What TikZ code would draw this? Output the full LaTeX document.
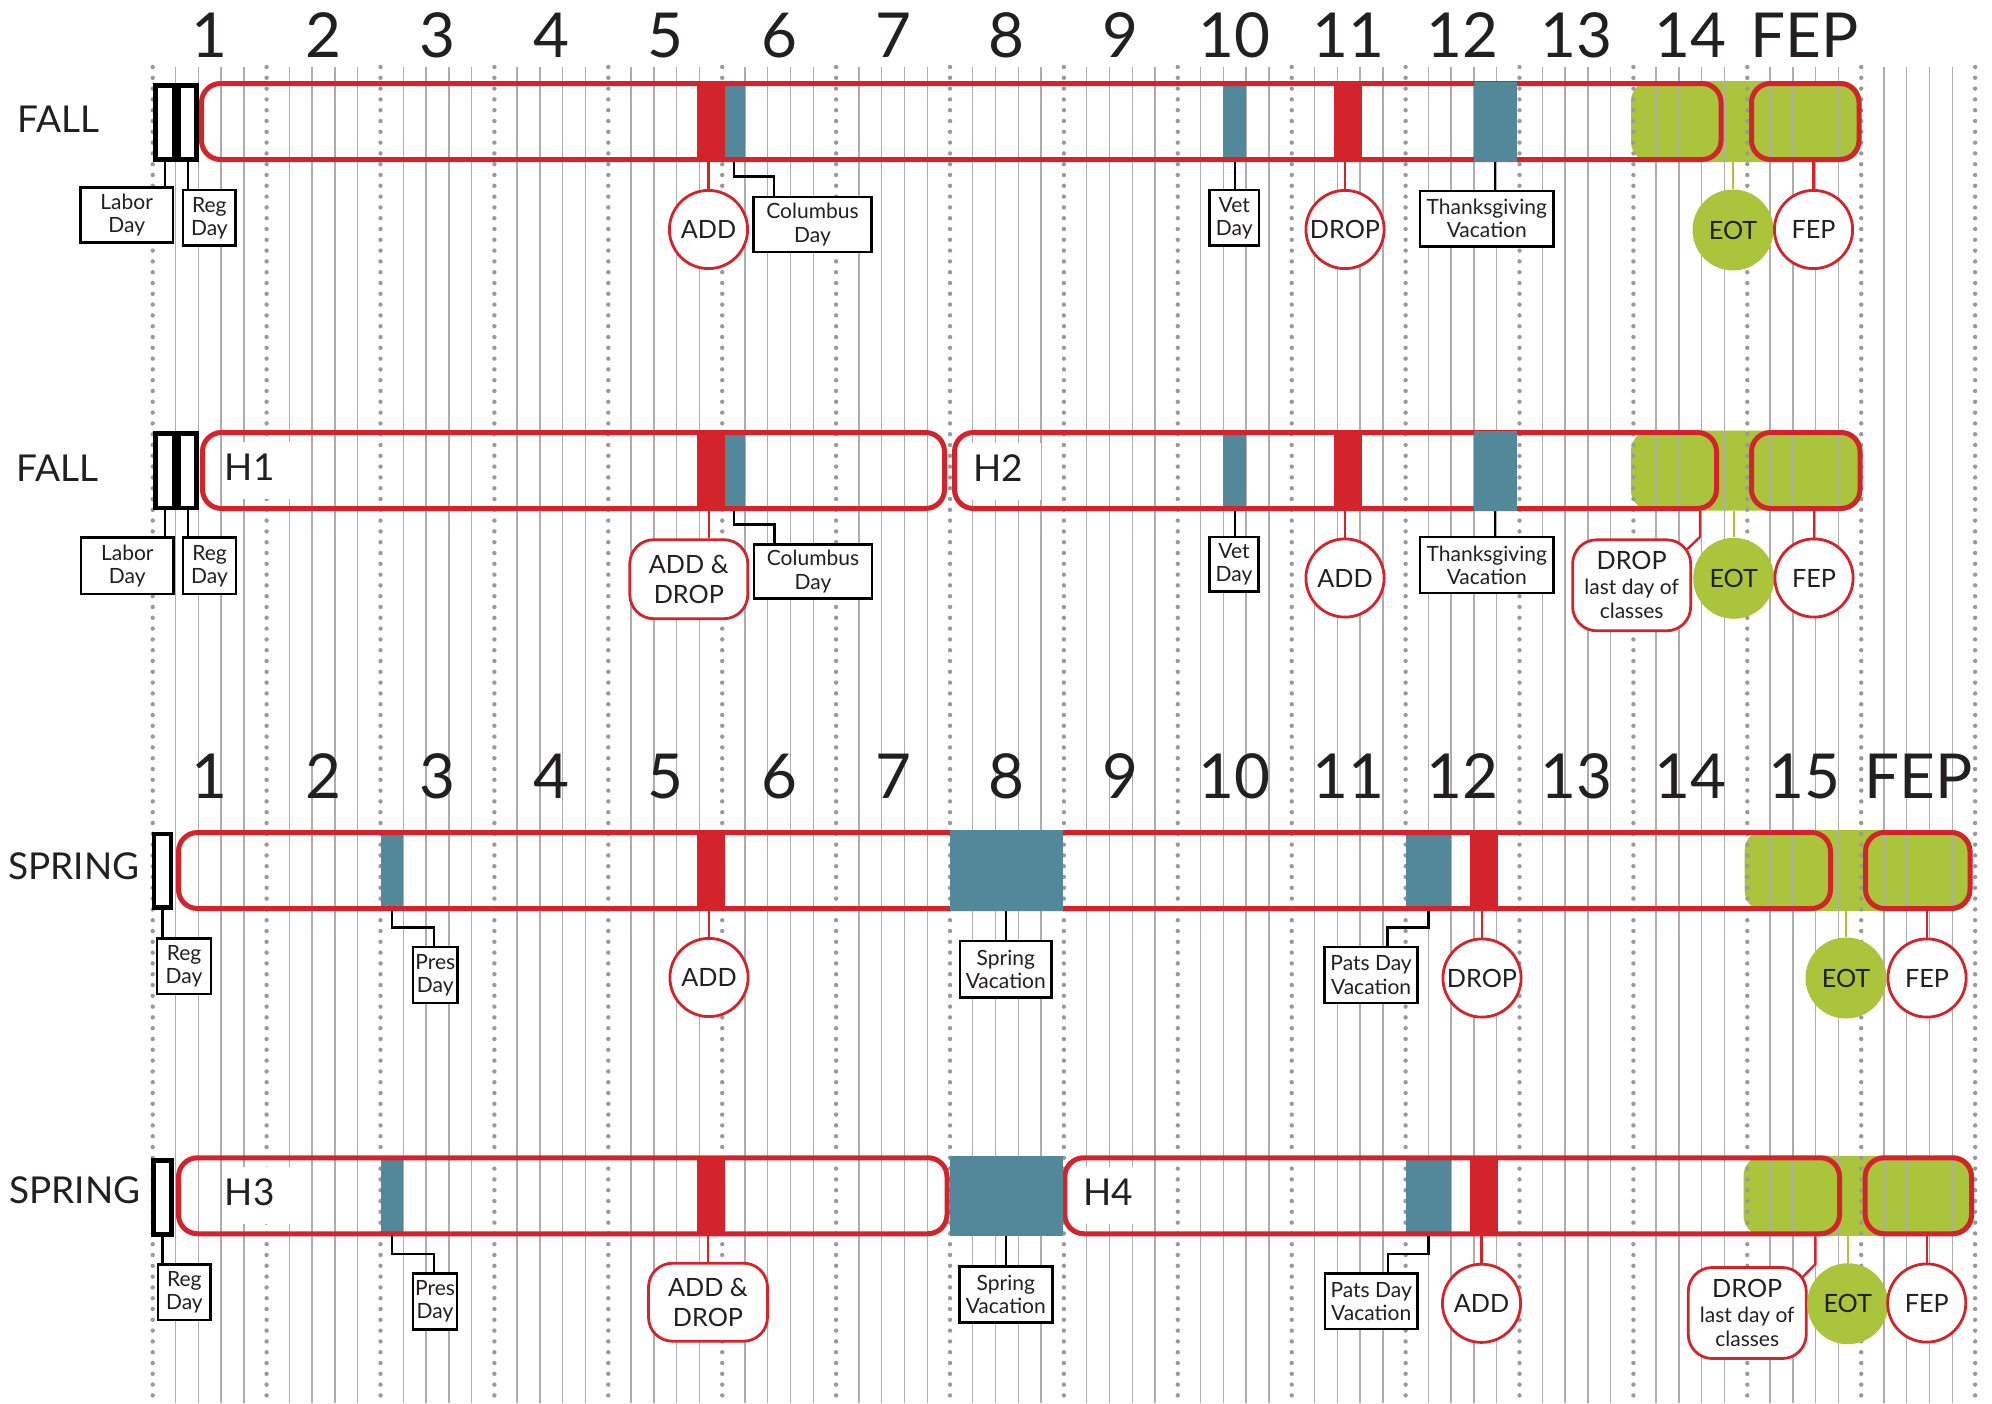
\documentclass[tikz,border=0pt]{standalone}
\usepackage{fontspec}
\setmainfont{Lato}
\usetikzlibrary{calc}
\definecolor{cred}{HTML}{D3232B}
\definecolor{cblue}{HTML}{53879A}
\definecolor{cgreen}{HTML}{AAC43B}
\definecolor{cgrid}{HTML}{ADADAD}
\definecolor{cdot}{HTML}{9A9A9A}
\definecolor{ctext}{HTML}{231F20}
\tikzset{
  wh/.style 2 args={minimum width=#1*0.5pt, minimum height=#2*0.5pt},
  gridline/.style={cgrid, line width=0.7pt},
  dotline/.style={cdot, line width=2.2pt, line cap=round, dash pattern=on 0pt off 5.4pt},
  wknum/.style={font=\fontsize{31}{31}\selectfont, text=ctext, inner sep=0pt, anchor=base},
  season/.style={font=\fontsize{18.5}{20}\selectfont, text=ctext, inner sep=0pt, anchor=base west},
  hlabel/.style={font=\fontsize{18.5}{20}\selectfont, text=ctext, inner sep=0pt, anchor=base west},
  termbox/.style={rectangle, draw=cred, line width=2.5pt, rounded corners=9.5pt, inner sep=0pt},
  greenblock/.style={rectangle, fill=cgreen, rounded corners=10pt, inner sep=0pt, outer sep=0pt},
  redbar/.style={rectangle, fill=cred, inner sep=0pt, outer sep=0pt},
  bluebar/.style={rectangle, fill=cblue, inner sep=0pt, outer sep=0pt},
  daycell/.style={rectangle, draw=black, line width=2.4pt, fill=white, inner sep=0pt},
  callout/.style={rectangle, draw=black, line width=1.35pt, fill=white, inner sep=0pt, align=center, font=\fontsize{10.5}{11.6}\selectfont, text=ctext},
  evcirc/.style={circle, draw=cred, line width=1.4pt, fill=white, inner sep=0pt, minimum size=39.1pt, font=\fontsize{12.6}{15}\selectfont, text=ctext},
  eotcirc/.style={circle, fill=cgreen, inner sep=0pt, minimum size=40.5pt, font=\fontsize{12.6}{15}\selectfont, text=ctext},
  evbox/.style={rectangle, rounded corners=12pt, draw=cred, line width=1.4pt, fill=white, inner sep=0pt, align=center, font=\fontsize{12.6}{15}\selectfont, text=ctext},
  dropbox/.style={rectangle, rounded corners=12pt, draw=cred, line width=1.4pt, fill=white, inner sep=0pt, align=center, font=\fontsize{10.5}{12.3}\selectfont, text=ctext},
  redcon/.style={cred, line width=1.2pt},
  greencon/.style={cgreen, line width=1.2pt},
  blackcon/.style={black, line width=1.1pt},
}
\begin{document}
\begin{tikzpicture}[x=0.5pt,y=-0.5pt]
\useasboundingbox (0,0) rectangle (1992,1403);
\fill[white] (0,0) rectangle (1992,1403);

% green end-of-term blocks
\node[greenblock, wh={230}{81}] (gb1) at (1746,121.5) {};
\node[greenblock, wh={231}{80}] (gb2) at (1746.5,470.5) {};
\node[greenblock, wh={227.3}{81}] (gb3) at (1858.35,870.5) {};
\node[greenblock, wh={230.5}{80}] (gb4) at (1858.75,1195.75) {};

% grid
\foreach \d in {0,...,80}{
  \pgfmathsetmacro{\gx}{152.7+22.78*\d}
  \pgfmathtruncatemacro{\gm}{mod(\d,5)}
  \ifnum\gm=0
    \draw[dotline] (\gx,67) -- (\gx,1403);
  \else
    \draw[gridline] (\gx,67) -- (\gx,1403);
  \fi
}

% week numbers
\foreach \k in {1,...,14}{
  \node[wknum] (fn\k) at ({152.7+113.9*(\k-0.5)},57) {\k};
}
\node[wknum] (fnfep) at ({152.7+113.9*14.5},57) {FEP};
\foreach \k in {1,...,15}{
  \node[wknum] (sn\k) at ({152.7+113.9*(\k-0.5)},798) {\k};
}
\node[wknum] (snfep) at ({152.7+113.9*15.5},798) {FEP};

% inner bars, row 1
\node[bluebar, wh={22.8}{80}] (colbar1) at (733.6,121.5) {};
\node[redbar, wh={27.5}{80}] (addbar1) at (710.75,121.5) {};
\node[bluebar, wh={22.8}{80}] (vetbar1) at (1234.8,121.5) {};
\node[redbar, wh={27.5}{80}] (dropbar1) at (1348,121.5) {};
% row 2
\node[bluebar, wh={22.8}{80}] (colbar2) at (733.6,470.5) {};
\node[redbar, wh={27.5}{80}] (addbar2) at (710.75,470.5) {};
\node[bluebar, wh={22.8}{80}] (vetbar2) at (1234.8,470.5) {};
\node[redbar, wh={27.5}{80}] (dropbar2) at (1348,470.5) {};
% row 3
\node[bluebar, wh={22.8}{80}] (presbar3) at (391.9,870.5) {};
\node[redbar, wh={27.5}{80}] (addbar3) at (710.75,870.5) {};
\node[bluebar, wh={45.6}{80}] (patsbar3) at (1428.4,870.5) {};
\node[redbar, wh={27.5}{80}] (dropbar3) at (1483.75,870.5) {};
% row 4
\node[bluebar, wh={22.8}{80}] (presbar4) at (391.9,1195.75) {};
\node[redbar, wh={27.5}{80}] (addbar4) at (710.75,1195.75) {};
\node[bluebar, wh={45.6}{80}] (patsbar4) at (1428.4,1195.75) {};
\node[redbar, wh={27.5}{80}] (dropbar4) at (1483.75,1195.75) {};

% term boxes
\node[termbox, wh={1519.5}{76}] (main1) at (961.25,121.5) {};
\node[termbox, wh={107.5}{76}] (fepb1) at (1805.25,121.5) {};
\node[termbox, wh={742}{76}] (h1box) at (573.5,470.5) {};
\node[termbox, wh={762}{76}] (h2box) at (1335.5,470.5) {};
\node[termbox, wh={108.5}{76}] (fepb2) at (1805.75,470.5) {};
\node[termbox, wh={1652}{76}] (main3) at (1004.5,870.5) {};
\node[termbox, wh={104.5}{76}] (fepb3) at (1917.75,870.5) {};
\node[termbox, wh={768.5}{76}] (h3box) at (562.75,1195.75) {};
\node[termbox, wh={774.7}{76}] (h4box) at (1452.15,1195.75) {};
\node[termbox, wh={106.3}{76}] (fepb4) at (1918.35,1195.75) {};

% half-term labels
\fill[white] (223.5,442) rectangle (292.5,499);
\node[hlabel] (h1) at (224.5,480) {H1};
\fill[white] (971.7,443) rectangle (1040.7,500);
\node[hlabel] (h2) at (972.7,481) {H2};
\fill[white] (223.5,1167) rectangle (292.5,1224);
\node[hlabel] (h3) at (224.5,1205) {H3};
\fill[white] (1081.7,1167) rectangle (1150.7,1224);
\node[hlabel] (h4) at (1082.7,1205) {H4};

% vacation bars over the boxes
\node[bluebar, wh={43}{80}] (thxbar1) at (1495,121.5) {};
\node[bluebar, wh={43}{80}] (thxbar2) at (1495,470.5) {};
\node[bluebar, wh={113.3}{81}] (sprbar3) at (1006.15,870.5) {};
\node[bluebar, wh={113.3}{80}] (sprbar4) at (1006.15,1195.75) {};

% season labels
\node[season] (fall1) at (17,132) {FALL};
\node[season] (fall2) at (16,481.5) {FALL};
\node[season] (spring3) at (8,879) {SPRING};
\node[season] (spring4) at (9,1203.5) {SPRING};

% day cells
\node[daycell, wh={19}{74.25}] (labc1) at (164.6,122.4) {};
\node[daycell, wh={17.5}{74.25}] (regc1) at (187.6,122.4) {};
\node[daycell, wh={19}{74.25}] (labc2) at (164.6,470.9) {};
\node[daycell, wh={17.5}{74.25}] (regc2) at (187.6,470.9) {};
\node[daycell, wh={17}{73.8}] (regc3) at (162.5,870.9) {};
\node[daycell, wh={17.6}{74}] (regc4) at (162.5,1197.5) {};

% callouts row 1
\node[callout, wh={92.7}{54.6}] (labor1) at (126.7,215) {Labor\\Day};
\node[callout, wh={52.7}{55.7}] (reg1) at (209.4,217.9) {Reg\\Day};
\node[callout, wh={117.6}{55}] (col1) at (812.5,224.5) {Columbus\\Day};
\node[callout, wh={49.3}{55.7}] (vet1) at (1234.2,217.9) {Vet\\Day};
\node[callout, wh={133.6}{55.3}] (thx1) at (1486.8,218.7) {Thanksgiving\\Vacation};
% callouts row 2
\node[callout, wh={92.5}{56.3}] (labor2) at (127.3,565.9) {Labor\\Day};
\node[callout, wh={53}{56.3}] (reg2) at (209.5,565.9) {Reg\\Day};
\node[callout, wh={118}{54.3}] (col2) at (813,571.5) {Columbus\\Day};
\node[callout, wh={49.5}{54.7}] (vet2) at (1234,564.4) {Vet\\Day};
\node[callout, wh={133.6}{56}] (thx2) at (1486.8,565) {Thanksgiving\\Vacation};
% callouts row 3
\node[callout, wh={54}{55.7}] (reg3) at (184,966.2) {Reg\\Day};
\node[callout, wh={44.5}{56}] (pres3) at (435.3,975) {Pres\\Day};
\node[callout, wh={91.5}{56.3}] (spr3) at (1005.8,969.2) {Spring\\Vacation};
\node[callout, wh={93.4}{56}] (pats3) at (1371.1,975) {Pats Day\\Vacation};
% callouts row 4
\node[callout, wh={52.7}{55.7}] (reg4) at (184.4,1292.2) {Reg\\Day};
\node[callout, wh={44}{56.4}] (pres4) at (435,1301.5) {Pres\\Day};
\node[callout, wh={93}{55.6}] (spr4) at (1005.8,1294.5) {Spring\\Vacation};
\node[callout, wh={92.3}{55.7}] (pats4) at (1371.2,1301.2) {Pats Day\\Vacation};

% event markers row 1
\node[evcirc] (add1c) at (708.5,229.5) {ADD};
\node[evcirc] (drop1c) at (1345,229.5) {DROP};
\node[eotcirc] (eot1) at (1733,230) {EOT};
\node[evcirc] (fep1) at (1813.5,229.5) {FEP};
% row 2
\node[evbox, wh={118}{79}] (ad2) at (688.8,579.2) {ADD \&\\DROP};
\node[evcirc] (add2c) at (1345,578) {ADD};
\node[dropbox, wh={118}{91}] (drop2) at (1631.65,585.3) {{\fontsize{12.6}{12.3}\selectfont DROP}\\last day of\\classes};
\node[eotcirc] (eot2) at (1733.7,578.3) {EOT};
\node[evcirc] (fep2) at (1814,578) {FEP};
% row 3
\node[evcirc] (add3c) at (709,977.5) {ADD};
\node[evcirc] (drop3c) at (1482,978) {DROP};
\node[eotcirc] (eot3) at (1846,978) {EOT};
\node[evcirc] (fep3) at (1927,978) {FEP};
% row 4
\node[evbox, wh={119}{78}] (ad4) at (708,1302.2) {ADD \&\\DROP};
\node[evcirc] (add4c) at (1481.5,1303.3) {ADD};
\node[dropbox, wh={118}{91}] (drop4) at (1747.25,1313) {{\fontsize{12.6}{12.3}\selectfont DROP}\\last day of\\classes};
\node[eotcirc] (eot4) at (1847.7,1303.7) {EOT};
\node[evcirc] (fep4) at (1926.7,1303) {FEP};

% black connectors
\draw[blackcon] (labc1.south) -- (labc1.south |- labor1.north);
\draw[blackcon] (regc1.south) -- (regc1.south |- reg1.north);
\draw[blackcon] (colbar1.south) -- ++(0,15) -| ([xshift=-19.25pt]col1.north);
\draw[blackcon] (vetbar1.south) -- (vetbar1.south |- vet1.north);
\draw[blackcon] (thxbar1.south) -- (thxbar1.south |- thx1.north);
\draw[blackcon] (labc2.south) -- (labc2.south |- labor2.north);
\draw[blackcon] (regc2.south) -- (regc2.south |- reg2.north);
\draw[blackcon] (colbar2.south) -- ++(0,14) -| ([xshift=-19.25pt]col2.north);
\draw[blackcon] (vetbar2.south) -- (vetbar2.south |- vet2.north);
\draw[blackcon] (thxbar2.south) -- (thxbar2.south |- thx2.north);
\draw[blackcon] (regc3.south) -- (regc3.south |- reg3.north);
\draw[blackcon] (presbar3.south) -- ++(0,17) -| ([xshift=-0.65pt]pres3.north);
\draw[blackcon] (sprbar3.south) -- (sprbar3.south |- spr3.north);
\draw[blackcon] (patsbar3.south) -- ++(0,17) -| ([xshift=8.2pt]pats3.north);
\draw[blackcon] (regc4.south) -- (regc4.south |- reg4.north);
\draw[blackcon] (presbar4.south) -- ++(0,18.5) -| ([xshift=-0.5pt]pres4.north);
\draw[blackcon] (sprbar4.south) -- (sprbar4.south |- spr4.north);
\draw[blackcon] (patsbar4.south) -- ++(0,18) -| ([xshift=8.4pt]pats4.north);

% red and green connectors
\draw[redcon] (add1c.north) -- (add1c.north |- addbar1.south);
\draw[redcon] (drop1c.north) -- (drop1c.north |- dropbar1.south);
\draw[redcon] (fep1.north) -- (fep1.north |- fepb1.south);
\draw[greencon] (eot1.north) -- (eot1.north |- gb1.south);

\draw[redcon] ([xshift=-1pt]addbar2.south) -- ([xshift=-1pt]addbar2.south |- ad2.north);
\draw[redcon] (add2c.north) -- (add2c.north |- dropbar2.south);
\coordinate (d2k) at (1700,537);
\draw[redcon] (d2k |- h2box.south) -- (d2k) -- ([shift={(-2.5pt,-5.5pt)}]drop2.north east);
\draw[redcon] (fep2.north) -- (fep2.north |- fepb2.south);
\draw[greencon] (eot2.north) -- (eot2.north |- gb2.south);

\draw[redcon] (add3c.north) -- (add3c.north |- addbar3.south);
\draw[redcon] (drop3c.north) -- (drop3c.north |- dropbar3.south);
\draw[redcon] (fep3.north) -- (fep3.north |- fepb3.south);
\draw[greencon] (eot3.north) -- (eot3.north |- gb3.south);

\draw[redcon] (ad4.north) -- (ad4.north |- addbar4.south);
\draw[redcon] (add4c.north) -- (add4c.north |- dropbar4.south);
\coordinate (d4k) at (1815.4,1264);
\draw[redcon] (d4k |- h4box.south) -- (d4k) -- ([shift={(-2.5pt,-5.5pt)}]drop4.north east);
\draw[redcon] (fep4.north) -- (fep4.north |- fepb4.south);
\draw[greencon] (eot4.north) -- (eot4.north |- gb4.south);
\end{tikzpicture}
\end{document}
